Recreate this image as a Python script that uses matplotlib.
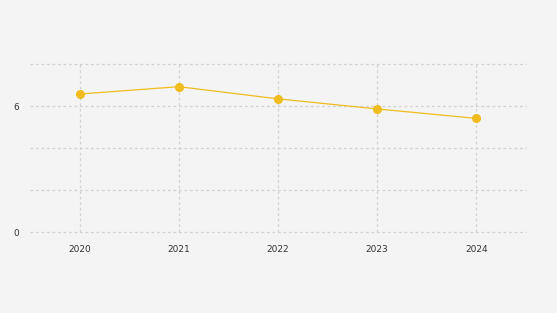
import matplotlib
matplotlib.use("Agg")
import matplotlib.pyplot as plt
from matplotlib.ticker import FuncFormatter

years = ["2020", "2021", "2022", "2023", "2024"]
values = [6.57, 6.92, 6.34, 5.86, 5.41]
y_ticks = [0, 2, 4, 6, 8]
y_labeled = [0, 6]

W, H = 557, 313
fig = plt.figure(figsize=(W / 100, H / 100), dpi=100)
fig.patch.set_facecolor("#f4f4f4")
ax = fig.add_axes([30 / W, (H - 232) / H, (526 - 30) / W, (232 - 64) / H])
ax.set_facecolor("#f4f4f4")

x = list(range(len(years)))
ax.plot(x, values, color="#f0bc1e", lw=0.9, marker="o", markersize=5.5,
        markerfacecolor="#f0bc1e", markeredgecolor="#f0bc1e", zorder=3, clip_on=False)

ax.set_xlim(-0.5, len(years) - 0.5)
ax.set_ylim(0, 8)
ax.set_xticks(x)
ax.set_xticklabels(years)
ax.set_yticks(y_ticks)
ax.yaxis.set_major_formatter(FuncFormatter(lambda v, p: f"{int(v)}" if int(round(v)) in y_labeled else ""))

ax.grid(True, color="#d2d2d2", linestyle=(0, (2.2, 2.2)), linewidth=0.9)
for ln in ax.get_ygridlines() + ax.get_xgridlines():
    ln.set_clip_on(False)
for s in ax.spines.values():
    s.set_visible(False)
ax.tick_params(length=0, labelsize=6.5, colors="#333333")
ax.tick_params(axis="x", pad=9)
ax.tick_params(axis="y", pad=8)

fig.savefig("out.png", dpi=100, facecolor=fig.get_facecolor())
